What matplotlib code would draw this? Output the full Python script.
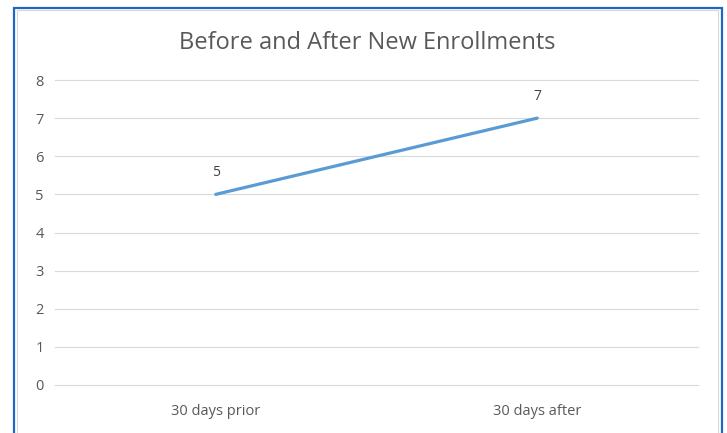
import matplotlib.pyplot as plt
from matplotlib.patches import Rectangle

categories = ['30 days prior', '30 days after']
values = [5, 7]
title = 'Before and After New Enrollments'

plt.rcParams['font.family'] = ['Open Sans', 'DejaVu Sans']

W, H = 727, 433
fig = plt.figure(figsize=(W / 100, H / 100), dpi=100)

# blue selection frame and grey chart border
fig.patches.append(Rectangle((13.5 / W, -0.05), (722 - 13.5) / W, 1.05 - 7.5 / H,
                             transform=fig.transFigure, fill=False,
                             edgecolor='#1f66c7', linewidth=1.6))
fig.patches.append(Rectangle((17 / W, -0.05), (718 - 17) / W, 1.05 - 10 / H,
                             transform=fig.transFigure, fill=False,
                             edgecolor='#d9d9d9', linewidth=0.8))

ax = fig.add_axes([55 / W, 1 - 385 / H, (698 - 55) / W, (385 - 80) / H])
x = range(len(categories))
for t in range(0, 9):
    ax.axhline(t, color='#d9d9d9', linewidth=0.8, clip_on=False, zorder=0)
ax.plot(x, values, color='#5b9bd5', linewidth=2.3, solid_capstyle='round')
for xi, v in zip(x, values):
    ax.annotate(str(v), (xi, v), xytext=(0, 10), textcoords='offset points',
                ha='center', va='bottom', fontsize=10, color='#404040')

ax.set_xlim(-0.5, 1.5)
ax.set_ylim(0, 8)
ax.set_yticks(range(0, 9))
ax.set_xticks(list(x))
ax.set_xticklabels(categories)
for s in ax.spines.values():
    s.set_visible(False)
ax.tick_params(length=0, labelsize=10.5, labelcolor='#595959')
ax.tick_params(axis='y', pad=8)
ax.tick_params(axis='x', pad=14)

fig.text(367 / W, 1 - 43 / H, title, ha='center', va='center',
         fontsize=17, color='#595959')

fig.savefig('out.png', dpi=100)
